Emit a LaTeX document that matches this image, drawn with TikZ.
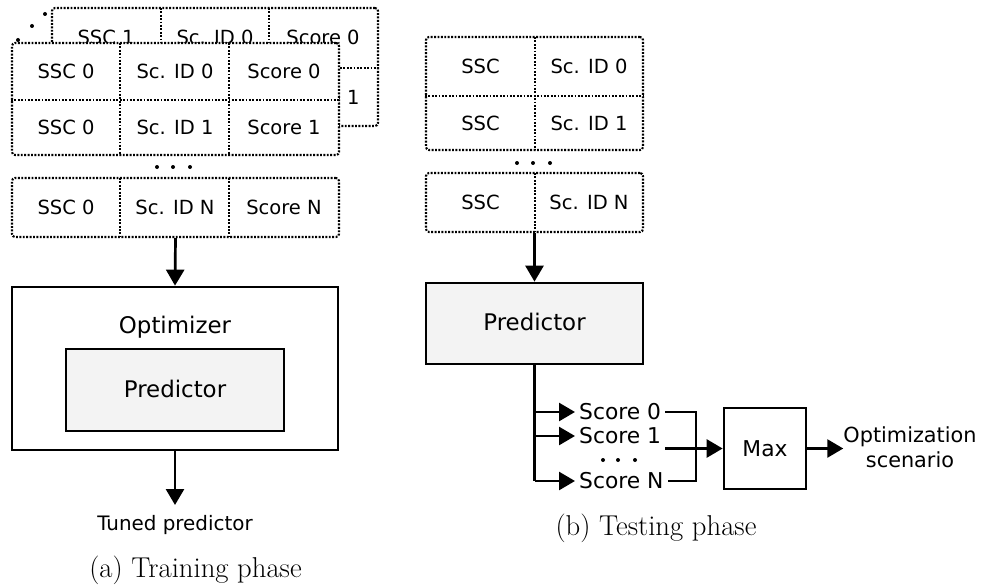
\documentclass[tikz,border=0pt]{standalone}
\usepackage{fontspec}
\newfontfamily\dv{DejaVu Sans}
\usetikzlibrary{arrows.meta}
\definecolor{boxgray}{RGB}{243,243,243}
\tikzset{
  dotbox/.style={draw, line width=2.1pt, dash pattern=on 1.9pt off 1.5pt,
                 rounded corners=3pt, fill=white, inner sep=0pt},
  dotline/.style={line width=2.1pt, dash pattern=on 1.9pt off 1.5pt},
  solidbox/.style={draw, line width=2.7pt, inner sep=0pt},
  conn/.style={line width=2.7pt},
  arr/.style={conn, -{Triangle[length=16pt,width=18pt]}},
  cell/.style={font=\dv\fontsize{19.5}{23}\selectfont, anchor=base, inner sep=0pt},
  big/.style={font=\dv\fontsize{22.9}{27}\selectfont, anchor=base, inner sep=0pt},
  score/.style={font=\dv\fontsize{21.8}{26}\selectfont, inner xsep=4pt, inner ysep=0pt},
  caption/.style={font=\fontsize{28.7}{34}\selectfont, anchor=base, inner sep=0pt},
  stackdot/.style={fill=black},
}
\begin{document}
\begin{tikzpicture}[x=1pt,y=-1pt]
\useasboundingbox (0,0) rectangle (986,586);

% ---------------- (a) training phase ----------------
% table of the second scenario, lying behind the first one
\node[dotbox, minimum width=326pt, minimum height=118pt] (back) at (215,67) {};
\draw[dotline] (back.west |- 0,68) -- (back.east |- 0,68);
\draw[dotline] (161,8) -- (161,126);
\draw[dotline] (269,8) -- (269,126);
\node[cell] (bssc) at (106,45) {SSC 1};
\node[cell] (bid)  at (215,45) {Sc. ID 0};
\node[cell] (bsc0) at (323,45) {Score 0};
\node[cell] (bsc1) at (323,104) {Score 1};

% stacking dots
\fill[stackdot] (18,40) circle (2pt);
\fill[stackdot] (32,26) circle (2pt);
\fill[stackdot] (45,14) circle (2pt);

% first scenario table
\node[dotbox, minimum width=327pt, minimum height=112pt] (front) at (175.5,99) {};
\draw[dotline] (front.west |- 0,100) -- (front.east |- 0,100);
\draw[dotline] (120,43) -- (120,155);
\draw[dotline] (229,43) -- (229,155);
\node[cell] (f0a) at (66,79) {SSC 0};
\node[cell] (f0b) at (175,79) {Sc. ID 0};
\node[cell] (f0c) at (284,79) {Score 0};
\node[cell] (f1a) at (66,134) {SSC 0};
\node[cell] (f1b) at (175,134) {Sc. ID 1};
\node[cell] (f1c) at (284,134) {Score 1};

\fill[stackdot] (157,167) circle (2pt);
\fill[stackdot] (173,167) circle (2pt);
\fill[stackdot] (190,167) circle (2pt);

% last row
\node[dotbox, minimum width=327pt, minimum height=59pt] (trN) at (175.5,207.5) {};
\draw[dotline] (120,178) -- (120,237);
\draw[dotline] (229,178) -- (229,237);
\node[cell] (fNa) at (66,214.5) {SSC 0};
\node[cell] (fNb) at (175,214.5) {Sc. ID N};
\node[cell] (fNc) at (284,214.5) {Score N};

% optimizer with its predictor
\node[solidbox, minimum width=326pt, minimum height=163pt] (opt) at (175,368.5) {};
\node[big] (optlbl) at (175,333) {Optimizer};
\node[solidbox, fill=boxgray, minimum width=218pt, minimum height=82pt] (pred1) at (175,390) {};
\node[big] (pred1lbl) at (175,397) {Predictor};

\draw[arr] (trN.south) -- (opt.north);
\coordinate (tuned) at (175,505);
\draw[arr] (opt.south) -- (tuned);
\node[cell, font=\dv\fontsize{19.9}{24}\selectfont] (tunedlbl) at (175,530) {Tuned predictor};

\node[caption] (capa) at (195.5,577) {(a) Training phase};

% ---------------- (b) testing phase ----------------
\node[dotbox, minimum width=217pt, minimum height=113pt] (te) at (534.5,93.5) {};
\draw[dotline] (te.west |- 0,96) -- (te.east |- 0,96);
\draw[dotline] (535,37) -- (535,150);
\node[cell] (t0a) at (480.5,73.6) {SSC};
\node[cell] (t0b) at (589,73.6) {Sc. ID 0};
\node[cell] (t1a) at (480.5,130) {SSC};
\node[cell] (t1b) at (589,130) {Sc. ID 1};

\fill[stackdot] (517,163) circle (2pt);
\fill[stackdot] (533,163) circle (2pt);
\fill[stackdot] (550,163) circle (2pt);

\node[dotbox, minimum width=217pt, minimum height=59pt] (teN) at (534.5,202.5) {};
\draw[dotline] (535,173) -- (535,232);
\node[cell] (tNa) at (480.5,209.6) {SSC};
\node[cell] (tNb) at (589,209.6) {Sc. ID N};

\node[solidbox, fill=boxgray, minimum width=217pt, minimum height=81pt] (pred2) at (534.5,323.5) {};
\node[big] (pred2lbl) at (534.5,330) {Predictor};
\draw[arr] (teN.south) -- (pred2.north);

% scores
\node[score, anchor=west] (s0) at (575,412) {Score 0};
\node[score, anchor=west] (s1) at (575,436) {Score 1};
\node[score, anchor=west] (sN) at (575,481) {Score N};
\fill[stackdot] (603,460) circle (2pt);
\fill[stackdot] (618,460) circle (2pt);
\fill[stackdot] (635,460) circle (2pt);

\draw[arr] (pred2.south) |- (s0.west);
\draw[arr] (pred2.south) |- (s1.west);
\draw[conn] (pred2.south) -- (pred2.south |- sN.west);
\draw[arr] (pred2.south |- sN.west) -- (sN.west);

% max block
\node[solidbox, minimum width=82pt, minimum height=81pt] (mx) at (765,448.5) {};
\node[score, anchor=base, inner sep=0pt] (mxlbl) at (765,456) {Max};

\coordinate (bus) at (696,448.5);
\draw[conn] (s0.east) -| (bus) |- (sN.east);
\draw[arr] (s1.east |- mx.west) -- (mx.west);

\node[font=\dv\fontsize{20.8}{25}\selectfont, align=center, inner sep=0pt] (osc) at (910,447) {Optimization\\scenario};
\draw[arr] (mx.east) -- (mx.east -| osc.west);

\node[caption] (capb) at (656,535) {(b) Testing phase};
\end{tikzpicture}
\end{document}
